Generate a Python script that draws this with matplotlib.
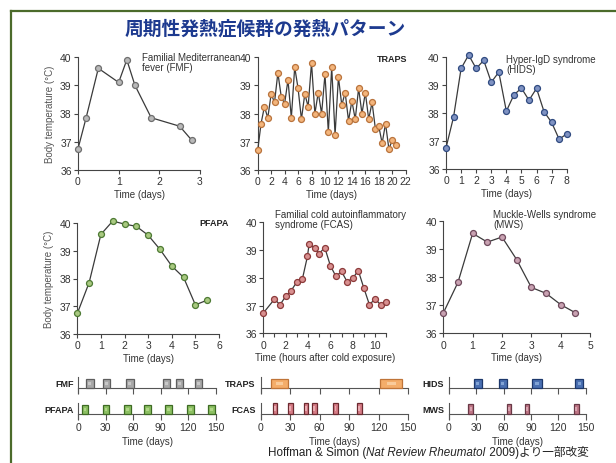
import matplotlib
matplotlib.use("Agg")
import matplotlib.pyplot as plt
from matplotlib.patches import Rectangle
from matplotlib.lines import Line2D

plt.rcParams['font.family'] = ['Liberation Sans', 'Noto Sans CJK JP', 'DejaVu Sans']

# ---------------- data ----------------
title = "周期性発熱症候群の発熱パターン"

fmf_x = [0, 0.2, 0.5, 1.0, 1.2, 1.4, 1.8, 2.5, 2.8]
fmf_y = [36.75, 37.85, 39.6, 39.1, 39.9, 39.0, 37.85, 37.55, 37.05]

traps_x = [0, 0.5, 1, 1.5, 2, 2.5, 3, 3.5, 4, 4.5, 5, 5.5, 6, 6.5, 7, 7.5, 8, 8.5, 9, 9.5,
           10, 10.5, 11, 11.5, 12, 12.5, 13, 13.5, 14, 14.5, 15, 15.5, 16, 16.5, 17, 17.5,
           18, 18.5, 19, 19.5, 20, 20.5]
traps_y = [36.7, 37.65, 38.25, 37.85, 38.7, 38.4, 39.45, 38.6, 38.35, 39.2, 37.85, 39.65,
           38.9, 37.8, 38.7, 38.25, 39.8, 38.0, 38.75, 38.0, 39.4, 37.35, 39.65, 37.25,
           39.3, 38.3, 38.75, 37.75, 38.45, 37.8, 38.9, 38.0, 38.75, 37.8, 38.4, 37.45,
           37.55, 36.95, 37.65, 36.75, 37.05, 36.9]

hids_x = [0, 0.5, 1, 1.5, 2, 2.5, 3, 3.5, 4, 4.5, 5, 5.5, 6, 6.5, 7, 7.5, 8]
hids_y = [36.75, 37.85, 39.58, 40.06, 39.58, 39.87, 39.09, 39.45, 38.06, 38.64, 38.88,
          38.45, 38.87, 38.04, 37.66, 37.06, 37.25]

pfapa_x = [0, 0.5, 1, 1.5, 2, 2.5, 3, 3.5, 4, 4.5, 5, 5.5]
pfapa_y = [36.74, 37.85, 39.59, 40.07, 39.96, 39.88, 39.56, 39.05, 38.45, 38.04, 37.05, 37.22]

fcas_x = [0, 1, 1.5, 2, 2.5, 3, 3.5, 3.95, 4.1, 4.6, 5, 5.5, 6, 6.5, 7, 7.5, 8, 8.5, 9,
          9.5, 10, 10.5, 11]
fcas_y = [36.73, 37.23, 37.03, 37.33, 37.54, 37.85, 37.96, 38.77, 39.21, 39.08, 38.87,
          39.09, 38.44, 38.05, 38.23, 37.86, 37.98, 38.26, 37.63, 37.03, 37.24, 37.03, 37.12]

mws_x = [0, 0.5, 1, 1.5, 2, 2.5, 3, 3.5, 4, 4.5]
mws_y = [36.72, 37.81, 39.55, 39.24, 39.42, 38.62, 37.63, 37.42, 37.02, 36.73]

# episode strips: start day, duration (days)
fmf_ep_start = [8.7, 27.0, 52.4, 92.5, 106.3, 127.0]
fmf_ep_len = [8, 8, 8, 8, 8, 8]
pfapa_ep_start = [3.8, 26.7, 50.0, 72.2, 94.8, 119.2, 142.1]
pfapa_ep_len = [7, 7, 7, 7, 7, 7, 7]
traps_ep_start = [10.2, 121.2]
traps_ep_len = [17.2, 22.7]
fcas_ep_start = [12.3, 27.8, 43.7, 52.2, 73.6, 97.9]
fcas_ep_len = [4.7, 4.7, 4.7, 4.7, 4.7, 4.7]
hids_ep_start = [27.0, 54.4, 91.6, 138.5]
hids_ep_len = [9, 9, 10, 9]
mws_ep_start = [21.3, 63.4, 83.1, 137.3]
mws_ep_len = [5, 5, 5, 5]

strip_ticks = [0, 30, 60, 90, 120, 150]

# ---------------- figure ----------------
W, H = 616, 464
fig = plt.figure(figsize=(W / 100, H / 100), dpi=100)
fig.patch.set_facecolor('white')

# green frame
fc = '#4b6b2b'
fig.add_artist(Line2D([11 / W, 1.0], [1 - 12 / H, 1 - 12 / H], color=fc, lw=1.6))
fig.add_artist(Line2D([11 / W, 11 / W], [0, 1 - 12 / H], color=fc, lw=1.6))

fig.text(265 / W, 1 - 29 / H, title, ha='center', va='center', fontsize=13.5,
         fontweight='bold', color='#1d3a8f', family=['Noto Sans CJK JP', 'DejaVu Sans'])

TXT = '#333333'
SP = '#444444'


def px_axes(x0, x1, y0, y1):
    return fig.add_axes([x0 / W, 1 - y1 / H, (x1 - x0) / W, (y1 - y0) / H])


def style(ax):
    for s in ('top', 'right'):
        ax.spines[s].set_visible(False)
    for s in ('left', 'bottom'):
        ax.spines[s].set_color(SP)
        ax.spines[s].set_linewidth(0.8)
    ax.tick_params(direction='out', length=3, width=0.8, color=SP, labelsize=7.5,
                   labelcolor=TXT, pad=1.5)
    ax.set_ylim(36, 40)
    ax.set_yticks([36, 37, 38, 39, 40])
    ax.patch.set_alpha(0)


def panel(ax, x, y, face, edge, xmax, xticks, xlabel, ylabel=False):
    style(ax)
    ax.plot(x, y, '-', color='#3a3a3a', lw=0.9, marker='o', ms=4.3, mfc=face, mec=edge,
            mew=0.9, clip_on=False, zorder=3)
    ax.set_xlim(0, xmax)
    ax.set_xticks(xticks)
    ax.set_xlabel(xlabel, fontsize=7, color=TXT, labelpad=2)
    if ylabel:
        ax.set_ylabel('Body temperature (°C)', fontsize=7, color='#555555', labelpad=4)


ax1 = px_axes(78, 200, 58, 171)
panel(ax1, fmf_x, fmf_y, '#b9b9b9', '#6e6e6e', 3, [0, 1, 2, 3], 'Time (days)', True)
ax2 = px_axes(257.7, 405.7, 58.3, 171)
panel(ax2, traps_x, traps_y, '#f3b57c', '#b9733c', 22, list(range(0, 23, 2)), 'Time (days)')
ax3 = px_axes(446, 566.7, 57.7, 170)
panel(ax3, hids_x, hids_y, '#7f92c2', '#2f4a80', 8, list(range(0, 9)), 'Time (days)')
ax4 = px_axes(77.3, 219, 224, 335)
panel(ax4, pfapa_x, pfapa_y, '#a9c981', '#4d7a33', 6, list(range(0, 7)), 'Time (days)', True)
ax5 = px_axes(263.3, 386.2, 223.3, 334.3)
panel(ax5, fcas_x, fcas_y, '#d99090', '#8b3a3a', 11, list(range(0, 11, 2)),
      'Time (hours after cold exposure)')
ax5.set_xticks(list(range(1, 12, 2)), minor=True)
ax5.tick_params(which='minor', direction='out', length=3, width=0.8, color=SP)
ax6 = px_axes(443.3, 590, 221.7, 334.3)
panel(ax6, mws_x, mws_y, '#c9a2b2', '#6e4a5c', 5, list(range(0, 6)), 'Time (days)')

# panel annotations
fs = 7
fig.text(142 / W, 1 - 53 / H, 'Familial Mediterranean\nfever (FMF)', fontsize=fs,
         color=TXT, va='top', ha='left', linespacing=1.0)
fig.text(407 / W, 1 - 59 / H, 'TRAPS', fontsize=6.5, fontweight='bold', color='#222222',
         va='center', ha='right')
fig.text(506 / W, 1 - 55 / H, 'Hyper-IgD syndrome\n(HIDS)', fontsize=fs, color=TXT,
         va='top', ha='left', linespacing=1.0)
fig.text(199 / W, 1 - 224 / H, 'PFAPA', fontsize=6.5, fontweight='bold', color='#222222',
         va='center', ha='left')
fig.text(275 / W, 1 - 210 / H, 'Familial cold autoinflammatory\nsyndrome (FCAS)',
         fontsize=fs, color=TXT, va='top', ha='left', linespacing=1.0)
fig.text(493 / W, 1 - 210 / H, 'Muckle-Wells syndrome\n(MWS)', fontsize=fs, color=TXT,
         va='top', ha='left', linespacing=1.0)


# ---------------- episode strips ----------------
def strip(x0, x1, y0, y1, starts, lens, height, face, edge, inner, label, labels_on):
    ax = px_axes(x0, x1, y0, y1)
    ax.set_xlim(0, 150)
    ax.set_ylim(-0.56, 1.22)
    for s in ('top', 'right'):
        ax.spines[s].set_visible(False)
    ax.spines['bottom'].set_position(('data', 0))
    for s in ('left', 'bottom'):
        ax.spines[s].set_color('#555555')
        ax.spines[s].set_linewidth(0.8)
    ax.set_yticks([])
    ax.set_xticks(strip_ticks)
    ax.tick_params(axis='x', direction='out', length=4, width=0.8, color='#555555',
                   labelsize=7.5, labelcolor=TXT, pad=1.5, labelbottom=labels_on)
    for s, l in zip(starts, lens):
        ax.add_patch(Rectangle((s, 0), l, height, facecolor=face, edgecolor=edge, lw=0.9,
                               clip_on=False, zorder=3))
        ax.add_patch(Rectangle((s + l * 0.3, height * 0.3), l * 0.4, height * 0.4,
                               facecolor=inner, edgecolor='none', clip_on=False, zorder=4,
                               alpha=0.8))
    ax.text(-0.035, 0.5, label, transform=ax.get_yaxis_transform(), ha='right',
            va='center', fontsize=6.5, fontweight='bold', color='#222222')
    ax.patch.set_alpha(0)
    if labels_on:
        ax.set_xlabel('Time (days)', fontsize=7, color=TXT, labelpad=3)
    return ax


strip(78.3, 215.7, 378, 394, fmf_ep_start, fmf_ep_len, 1.0, '#a9a9a9', '#5e5e5e',
      '#d0d0d0', 'FMF', False)
strip(78.3, 215.7, 404, 420, pfapa_ep_start, pfapa_ep_len, 1.0, '#8cc062', '#3e6b24',
      '#b8dc90', 'PFAPA', True)
strip(260.7, 408.3, 378, 394, traps_ep_start, traps_ep_len, 1.0, '#f4ad6a', '#bf7438',
      '#fbd3a8', 'TRAPS', False)
strip(260.7, 408.3, 404, 420, fcas_ep_start, fcas_ep_len, 1.25, '#d77d87', '#6c2a30',
      '#f0b8bd', 'FCAS', True)
strip(449, 585.7, 378, 394, hids_ep_start, hids_ep_len, 1.0, '#4a70b2', '#1d386c',
      '#8fb0de', 'HIDS', False)
strip(449, 585.7, 404, 420, mws_ep_start, mws_ep_len, 1.15, '#bf7686', '#683846',
      '#e0b0bc', 'MWS', True)

# ---------------- citation ----------------
fig.canvas.draw()
r = fig.canvas.get_renderer()
parts = [("Hoffman & Simon (", 'normal'), ("Nat Review Rheumatol", 'italic'),
         (" 2009)より一部改変", 'normal')]
x = 268
for txt, st in parts:
    t = fig.text(x / W, 1 - 453 / H, txt, fontsize=8.4, style=st, color='#222222',
                 ha='left', va='center')
    bb = t.get_window_extent(renderer=r)
    x += bb.width

fig.savefig('out.png', dpi=100)
